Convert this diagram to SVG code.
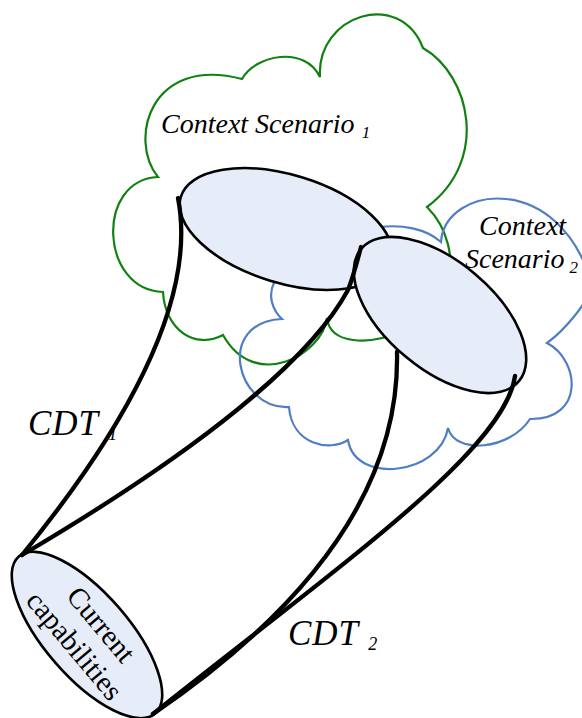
<svg xmlns="http://www.w3.org/2000/svg" width="582" height="718" viewBox="0 0 582 718">
  <defs>
    <style>
      .cloud-green { fill: none; stroke: #118011; stroke-width: 2.2; stroke-linejoin: miter; }
      .cloud-blue { fill: none; stroke: #4F7EC2; stroke-width: 2.2; stroke-linejoin: miter; }
      .disc { fill: #E6EDF8; stroke: #000; stroke-width: 2.6; }
      .tube { fill: none; stroke: #000; stroke-width: 4.3; stroke-linecap: round; }
      .lbl { font-family: "Liberation Serif", "Times New Roman", serif; font-style: italic; fill: #000; }
      .cap { font-family: "Liberation Serif", "Times New Roman", serif; font-size: 29px; fill: #000; text-anchor: middle; }
    </style>
  </defs>

  <!-- scenario clouds (outline only) -->
  <g id="cloud-scenario-1">
    <path class="cloud-green" d="M158,177 C128,140 150,55 242,79 C255,55 305,45 320,77 C316,15 400,-12 423,48 C470,75 490,160 427,207 C470,250 450,330 400,332 C370,345 330,345 327,318 C322,355 255,392 223,335 C195,350 165,330 163,292 C100,290 95,180 158,177 Z"/>
  </g>
  <g id="cloud-scenario-2">
    <path class="cloud-blue" d="M441,242 C445,185 560,170 592,285 C590,300 565,330 547,343 C580,360 585,420 530,419 C510,450 455,455 448,428 C440,475 355,485 348,440 C330,452 292,445 289,407 C236,410 215,322 282,319 C262,300 265,262 330,255 C345,225 410,215 441,242 Z"/>
  </g>

  <!-- context discs -->
  <g id="node-scenario-1">
    <ellipse class="disc" cx="286" cy="229" rx="110" ry="54" transform="rotate(17 286 229)"/>
  </g>
  <g id="node-scenario-2">
    <ellipse class="disc" cx="440" cy="315" rx="103" ry="54" transform="rotate(40 440 315)"/>
  </g>
  <g id="node-current">
    <ellipse class="disc" cx="87" cy="635" rx="104" ry="42" transform="rotate(49 87 635)"/>
    <g transform="rotate(50 87 635)">
      <text class="cap" x="88" y="627">Current</text>
      <text class="cap" x="87" y="661">capabilities</text>
    </g>
  </g>

  <!-- CDT tubes joining the discs -->
  <g id="connectors">
    <path class="tube" d="M178,198 C192,270 165,380 22,555"/>
    <path class="tube" d="M361,247 C355,270 352,280 348,290 C310,360 200,450 22,555"/>
    <path class="tube" d="M397,352 C400,480 320,600 153,714"/>
    <path class="tube" d="M515,376 C505,450 340,565 153,714"/>
  </g>

  <!-- labels -->
  <g id="labels">
    <text class="lbl" x="161" y="133" font-size="28">Context Scenario <tspan font-size="17" dy="5">1</tspan></text>
    <text class="lbl" x="479" y="235" font-size="28">Context</text>
    <text class="lbl" x="465" y="268" font-size="28">Scenario<tspan font-size="17" dx="5" dy="5">2</tspan></text>
    <text class="lbl" x="28" y="435" font-size="35" letter-spacing="1">CDT <tspan font-size="18" dy="5" letter-spacing="0">1</tspan></text>
    <text class="lbl" x="288" y="645" font-size="35" letter-spacing="1">CDT <tspan font-size="18" dy="5" letter-spacing="0">2</tspan></text>
  </g>
</svg>
